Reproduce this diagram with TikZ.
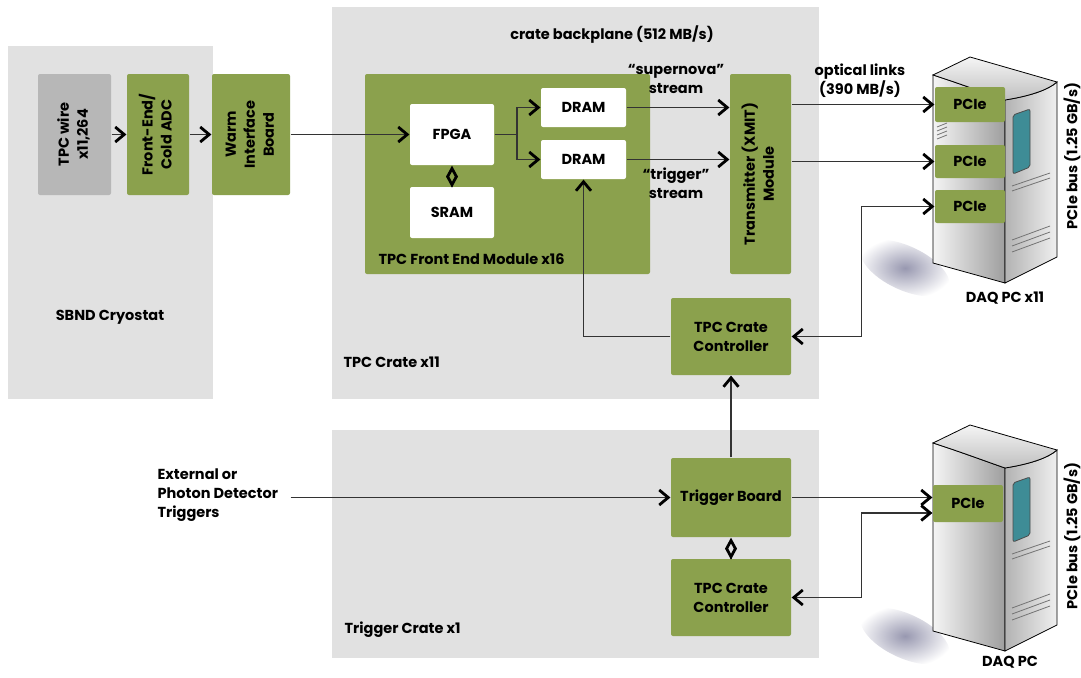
\documentclass[tikz,border=0pt]{standalone}
\usepackage{fontspec}
\setmainfont{Poppins}
\usetikzlibrary{arrows.meta,calc}
\definecolor{boardgreen}{HTML}{8BA14D}
\definecolor{panelgray}{HTML}{E1E1E1}
\definecolor{wiregray}{HTML}{B7B7B7}
\definecolor{winteal}{HTML}{3E8C96}
\definecolor{shadowgray}{HTML}{9898B0}
\newcommand{\vtext}[1]{\rotatebox{90}{\begin{tabular}{@{}c@{}}#1\end{tabular}}}

\begin{document}
\begin{tikzpicture}[x=1pt,y=-1pt,>={Straight Barb[color=black,length=9pt,width=15pt,line width'=2.8pt]},line width=1.2pt,font=\fontsize{14.5}{19}\selectfont\bfseries]
	\tikzstyle{board}=[fill=boardgreen,rounded corners=2pt,inner sep=0pt,align=center]
	\tikzstyle{chip}=[fill=white,rounded corners=2pt,inner sep=0pt]
	\tikzstyle{panel}=[fill=panelgray]
	\tikzstyle{label}=[align=center,inner sep=0pt]
	\tikzstyle{link}=[draw=black!80]
	\tikzstyle{bus}=[{Diamond[open,color=black,length=22pt,width=12pt,line width'=2.8pt]}-]
	\useasboundingbox (0,0) rectangle (1081,677);
	% crates
	\fill[panel] (8,46) rectangle (213,399);
	\fill[panel] (332,7) rectangle (819,399);
	\fill[panel] (332,430) rectangle (819,658);
	\node[label] (CRYO) at (110,317) {SBND Cryostat};
	\node[label] (BP) at (612,35) {crate backplane (512 MB/s)};
	\node[label,anchor=west] (TPCC) at (343,362) {TPC Crate x11};
	\node[label,anchor=west] (TRGC) at (344,630) {Trigger Crate x1};
	% cryostat chain
	\node[board,fill=wiregray,minimum width=73pt,minimum height=121pt] (W) at (74.5,134.5) {\vtext{TPC wire\\x11,264}};
	\node[board,minimum width=62pt,minimum height=121pt] (FE) at (158,134.5) {\vtext{Front-End/\\Cold ADC}};
	\node[board,minimum width=78pt,minimum height=121pt] (WIB) at (251,134.5) {\vtext{Warm\\Interface\\Board}};
	% front end module
	\node[board,minimum width=285pt,minimum height=200pt] (FEM) at (507.5,174) {};
	\node[label,anchor=west] (FEML) at (378,259) {TPC Front End Module x16};
	\node[chip,minimum width=84pt,minimum height=61pt] (FPGA) at (452,134.5) {FPGA};
	\node[chip,minimum width=84pt,minimum height=51pt] (SRAM) at (452,212.5) {SRAM};
	\node[chip,minimum width=85pt,minimum height=39pt] (D1) at (583.5,107.5) {DRAM};
	\node[chip,minimum width=85pt,minimum height=39pt] (D2) at (583.5,159.5) {DRAM};
	\node[board,minimum width=61pt,minimum height=200pt] (X) at (760.5,174) {\vtext{Transmitter (XMIT)\\Module}};
	\node[label] (SN) at (676,79) {``supernova''\\stream};
	\node[label] (TS) at (676,183) {``trigger''\\stream};
	\node[board,minimum width=120pt,minimum height=77pt] (CC) at (731,336.5) {TPC Crate\\Controller};
	% trigger crate
	\node[board,minimum width=120pt,minimum height=79pt] (TB) at (731,497.5) {Trigger Board};
	\node[board,minimum width=120pt,minimum height=77pt] (CC2) at (731,597.5) {TPC Crate\\Controller};
	\node[label,align=left,anchor=west] (EXT) at (157,495) {External or\\Photon Detector\\Triggers};
	\node[label] (OPT) at (860,81) {optical links\\(390 MB/s)};
	% DAQ PCs
	\foreach \oy in {0,368} {
		\begin{scope}[shift={(0,\oy)}]
			\shade[inner color=shadowgray,outer color=white,rotate around={-25:(905,268)}] (905,268) ellipse (48 and 22);
			\shade[left color=black!4,right color=black!38,draw=black,line width=0.8pt] (933,75) .. controls (958,83) and (985,93) .. (1005,100) -- (1005,283) -- (933,263) -- cycle;
			\shade[left color=black!30,right color=black!6,draw=black,line width=0.8pt] (1005,100) .. controls (1030,96) and (1048,90) .. (1057,82) -- (1057,257) -- (1005,283) -- cycle;
			\shade[top color=black!4,bottom color=black!25,draw=black,line width=0.8pt] (933,75) -- (970,57) -- (1057,82) .. controls (1048,90) and (1030,96) .. (1005,100) .. controls (985,93) and (958,83) .. (933,75) -- cycle;
			\filldraw[fill=winteal,draw=black!70,line width=0.8pt,rounded corners=2pt] (1013,115) -- (1030,109) -- (1030,167) -- (1013,174) -- cycle;
			\draw[black!55,line width=0.8pt] (1012,186) -- (1050,173) (1012,191) -- (1050,178);
			\draw[black!55,line width=0.8pt] (1012,240) -- (1050,226) (1012,246) -- (1050,232) (1012,252) -- (1050,238);
			\draw[black!55,line width=0.8pt] (937,127) -- (947,123) (937,131) -- (947,127) (937,135) -- (947,131) (937,139) -- (947,135);
		\end{scope}
	}
	\node[board,minimum width=70pt,minimum height=35pt] (P1) at (970,104.5) {PCIe};
	\node[board,minimum width=70pt,minimum height=33pt] (P2) at (970,161.5) {PCIe};
	\node[board,minimum width=70pt,minimum height=33pt] (P3) at (970,206.5) {PCIe};
	\node[board,minimum width=70pt,minimum height=37pt] (P4) at (968,503.5) {PCIe};
	\node[label,rotate=90] (BUS1) at (1072,156) {PCIe bus (1.25 GB/s)};
	\node[label,rotate=90] (BUS2) at (1072,536) {PCIe bus (1.25 GB/s)};
	\node[label] (PC1) at (1005,298) {DAQ PC x11};
	\node[label] (PC2) at (1010,662) {DAQ PC};
	% connectors
	\coordinate (BR) at (517,134.5);
	\path[link]
	(W) edge[->] (FE)
	(FE) edge[->] (WIB)
	(WIB) edge[->] (FPGA)
	(D1.east) edge[->] (D1.east -| X.west)
	(D2.east) edge[->] (D2.east -| X.west)
	(X.east |- P1.west) edge[->] (P1.west)
	(X.east |- P2.west) edge[->] (P2.west)
	(TB.north) edge[->] (CC.south)
	(TB.east) edge[->] (TB.east -| P4.west)
	(FPGA.south) edge[bus] (SRAM.north)
	(TB.south) edge[bus] (CC2.north);
	\draw[link] (FPGA.east) -- (BR);
	\draw[link,->] (BR) |- (D1.west);
	\draw[link,->] (BR) |- (D2.west);
	\draw[link,->] (CC.west) -| (D2.south);
	\draw[link,<->] (P3.west) -- ++(-73,0) |- (CC.east);
	\draw[link,<->] ($(P4.west)+(0,9.5)$) -- ++(-71,0) |- (CC2.east);
	\draw[link,->] ([xshift=12pt]EXT.east |- TB.west) -- (TB.west);
\end{tikzpicture}
\end{document}
